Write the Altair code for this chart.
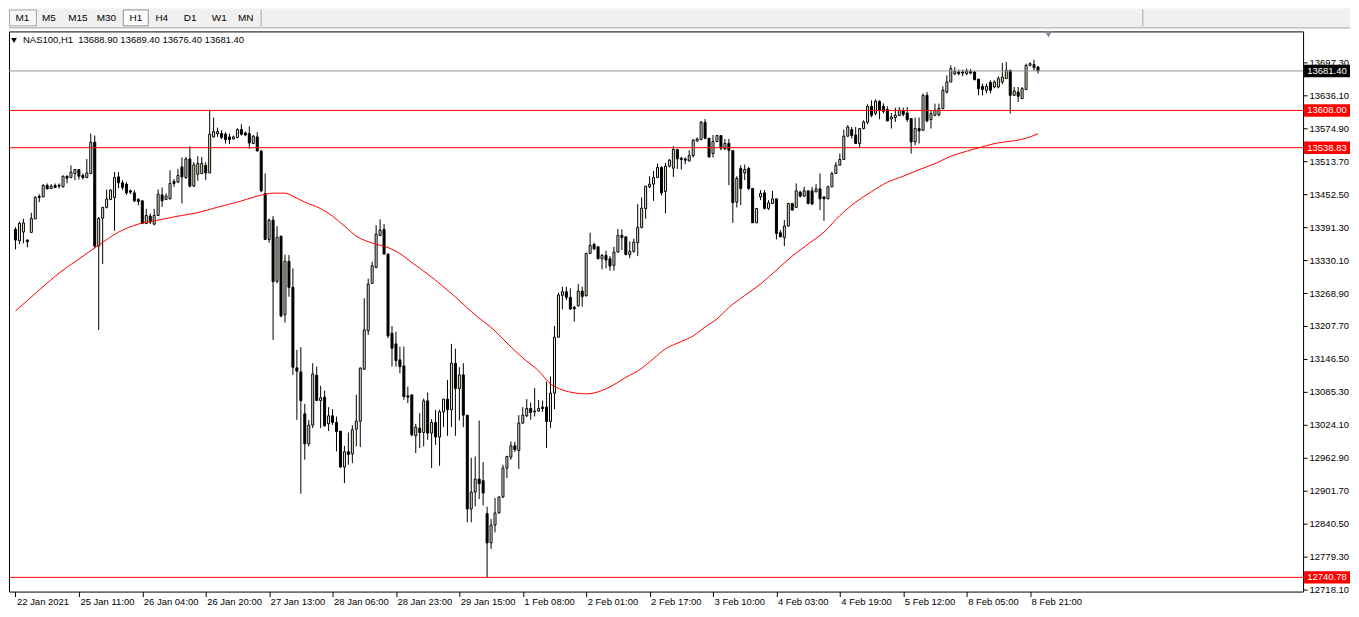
import altair as alt
import pandas as pd

# ---------------- data ----------------
symbol = "NAS100,H1"

opens = [
    13387.1, 13365.9, 13382.1, 13367.2, 13381.5, 13406.7, 13448.3, 13447.5, 13468.7, 13463.1,
    13468.7, 13469.2, 13466.1, 13485.9, 13483.5, 13490.9, 13498.3, 13487.2, 13483.5, 13490.9,
    13548.9, 13356.6, 13408.0, 13427.9, 13442.7, 13446.4, 13484.6, 13473.5, 13471.1, 13458.7,
    13454.9, 13442.7, 13440.1, 13398.2, 13411.7, 13396.9, 13413.0, 13451.2, 13442.7, 13443.8,
    13476.1, 13474.8, 13503.2, 13483.5, 13518.0, 13467.4, 13489.6, 13490.9, 13505.8, 13492.0,
    13558.8, 13565.1, 13565.1, 13563.8, 13558.8, 13555.1, 13557.7, 13572.5, 13566.2, 13565.1,
    13546.6, 13558.8, 13532.8, 13453.8, 13368.5, 13404.3, 13290.6, 13374.6, 13228.7, 13327.7,
    13279.5, 13129.9, 13122.4, 13044.5, 12988.9, 13023.6, 13116.3, 13069.2, 13075.5, 13026.0,
    13040.8, 13028.4, 13012.5, 12945.7, 12974.1, 12970.4, 13016.2, 13031.0, 13127.4, 13199.0,
    13286.9, 13316.6, 13375.9, 13387.1, 13341.3, 13194.2, 13174.4, 13144.7, 13133.5, 13077.9,
    13079.8, 13003.7, 13018.0, 13009.9, 13068.6, 13008.7, 13028.4, 13001.3, 13048.2, 13071.8,
    13052.0, 13138.5, 13091.5, 13116.9, 13042.1, 12867.8, 12899.3, 12923.4, 12920.3, 12859.1,
    12804.8, 12838.1, 12860.4, 12890.1, 12943.8, 12964.2, 12985.2, 12976.5, 13027.3, 13040.8,
    13054.4, 13049.6, 13049.6, 13057.0, 13057.0, 13030.3, 13082.9, 13186.8, 13264.7, 13271.3,
    13260.9, 13242.4, 13245.4, 13272.6, 13264.0, 13342.5, 13359.2, 13354.8, 13332.5, 13338.8,
    13332.5, 13320.3, 13345.0, 13375.9, 13373.3, 13340.0, 13346.3, 13362.2, 13390.8, 13426.0,
    13466.1, 13471.1, 13483.5, 13502.0, 13457.5, 13504.5, 13500.8, 13535.4, 13519.3, 13518.0,
    13514.3, 13524.3, 13551.4, 13554.0, 13586.0, 13556.4, 13528.0, 13550.3, 13561.4, 13536.9,
    13547.1, 13533.2, 13437.7, 13500.2, 13492.0, 13500.2, 13463.1, 13399.3, 13447.5, 13454.9,
    13426.0, 13435.3, 13443.8, 13380.8, 13372.2, 13393.2, 13435.3, 13427.9, 13456.2, 13448.8,
    13458.7, 13458.7, 13456.8, 13462.3, 13447.5, 13443.8, 13466.1, 13490.9, 13506.3, 13516.9,
    13560.1, 13572.5, 13562.5, 13546.6, 13574.4, 13586.0, 13615.7, 13602.7, 13625.0, 13615.7,
    13609.6, 13592.2, 13594.8, 13598.5, 13607.0, 13603.3, 13592.9, 13549.5, 13574.4, 13571.2,
    13636.1, 13591.1, 13599.0, 13599.6, 13611.5, 13642.2, 13660.8, 13676.4, 13679.3, 13679.3,
    13676.4, 13680.1, 13679.3, 13666.4, 13652.8, 13645.4, 13660.2, 13651.5, 13651.5, 13660.8,
    13667.1, 13682.5, 13636.1, 13642.2, 13630.0, 13646.7, 13691.8, 13693.1, 13688.9,
]
highs = [
    13391.3, 13401.2, 13406.7, 13368.5, 13417.9, 13448.8, 13452.5, 13471.1, 13472.4, 13471.1,
    13472.4, 13472.4, 13487.2, 13487.2, 13505.8, 13499.4, 13498.3, 13490.9, 13518.0, 13565.1,
    13561.4, 13409.9, 13429.0, 13461.2, 13461.2, 13493.9, 13493.9, 13478.5, 13474.8, 13461.2,
    13460.0, 13445.1, 13441.4, 13425.3, 13416.7, 13425.3, 13461.2, 13464.9, 13453.8, 13497.0,
    13480.9, 13499.4, 13520.6, 13521.7, 13541.5, 13511.9, 13523.0, 13521.7, 13511.9, 13609.6,
    13594.8, 13576.2, 13571.2, 13567.5, 13565.1, 13561.4, 13574.9, 13582.3, 13568.8, 13578.6,
    13562.5, 13567.5, 13534.1, 13490.9, 13407.5, 13411.7, 13393.2, 13374.6, 13340.0, 13339.4,
    13314.7, 13163.2, 13168.2, 13063.1, 13033.4, 13138.5, 13132.2, 13096.5, 13087.7, 13057.0,
    13053.2, 13039.5, 13012.5, 12985.2, 13009.9, 13023.6, 13079.8, 13131.1, 13259.1, 13295.5,
    13327.0, 13395.0, 13405.6, 13396.9, 13341.3, 13207.7, 13197.2, 13169.3, 13169.3, 13095.2,
    13079.8, 13026.0, 13045.8, 13072.9, 13084.0, 13034.7, 13052.0, 13052.0, 13071.8, 13107.6,
    13174.4, 13165.6, 13131.1, 13138.5, 13042.1, 12962.9, 12965.3, 13032.1, 12955.0, 12872.1,
    12849.3, 12888.2, 12891.2, 12950.0, 12966.6, 12993.2, 12992.6, 13042.1, 13057.0, 13071.8,
    13065.5, 13092.2, 13070.5, 13069.2, 13104.4, 13113.7, 13207.7, 13269.5, 13280.6, 13280.6,
    13277.6, 13244.8, 13285.6, 13280.6, 13343.7, 13380.8, 13362.2, 13354.8, 13341.3, 13347.4,
    13337.5, 13354.8, 13388.2, 13387.1, 13373.3, 13364.8, 13369.6, 13434.0, 13446.4, 13467.4,
    13485.9, 13495.7, 13509.5, 13504.5, 13510.6, 13518.0, 13541.5, 13535.4, 13521.7, 13520.6,
    13534.1, 13555.1, 13557.7, 13588.5, 13592.2, 13556.4, 13562.5, 13561.4, 13561.4, 13555.1,
    13555.1, 13533.2, 13485.9, 13506.3, 13507.6, 13503.2, 13463.1, 13426.0, 13460.0, 13460.0,
    13441.4, 13458.7, 13443.8, 13385.8, 13404.3, 13435.8, 13435.3, 13472.4, 13458.7, 13466.1,
    13458.7, 13466.1, 13471.1, 13490.9, 13447.5, 13468.7, 13493.9, 13512.4, 13528.0, 13572.5,
    13580.5, 13577.3, 13577.3, 13574.4, 13589.8, 13619.4, 13626.8, 13628.7, 13626.8, 13621.3,
    13615.7, 13603.3, 13613.3, 13614.4, 13613.3, 13614.4, 13592.9, 13594.8, 13594.8, 13639.3,
    13642.2, 13608.3, 13620.7, 13620.7, 13652.8, 13673.2, 13691.8, 13688.6, 13683.8, 13683.8,
    13685.6, 13684.9, 13681.2, 13666.4, 13657.8, 13657.8, 13664.0, 13664.0, 13671.4, 13696.0,
    13697.9, 13683.8, 13651.5, 13651.5, 13651.5, 13694.9, 13697.3, 13702.3, 13689.4,
]
lows = [
    13350.0, 13359.8, 13361.1, 13353.7, 13380.8, 13406.2, 13437.7, 13447.0, 13461.2, 13462.3,
    13463.7, 13463.1, 13465.0, 13472.4, 13482.2, 13478.5, 13479.8, 13479.8, 13482.2, 13489.6,
    13351.8, 13200.3, 13322.7, 13426.0, 13441.4, 13384.5, 13463.7, 13460.0, 13451.2, 13452.5,
    13437.7, 13431.6, 13396.9, 13396.9, 13396.9, 13394.5, 13411.7, 13429.0, 13441.4, 13442.7,
    13466.1, 13473.5, 13435.3, 13480.9, 13465.0, 13466.1, 13477.2, 13489.6, 13478.5, 13492.0,
    13557.7, 13558.8, 13555.1, 13546.6, 13545.3, 13554.0, 13556.4, 13561.4, 13560.1, 13536.5,
    13545.3, 13531.7, 13456.2, 13367.2, 13362.2, 13181.8, 13286.9, 13223.9, 13213.9, 13262.1,
    13116.9, 13033.4, 12896.2, 12959.4, 12983.9, 13018.0, 13069.2, 13018.0, 13021.0, 13012.5,
    13024.1, 12974.6, 12944.4, 12916.0, 12950.0, 12953.1, 12983.9, 12982.8, 13126.1, 13191.0,
    13286.9, 13314.7, 13374.6, 13341.3, 13184.9, 13132.2, 13132.2, 13120.0, 13070.5, 13064.4,
    13002.4, 12971.6, 12981.0, 12983.9, 12996.3, 12943.8, 12987.0, 12948.1, 13019.9, 13003.7,
    13019.9, 13003.7, 13032.1, 13019.9, 12843.0, 12843.0, 12872.6, 12886.3, 12874.5, 12740.8,
    12793.6, 12824.4, 12859.1, 12888.2, 12925.3, 12959.2, 12974.1, 12942.0, 13026.0, 13038.4,
    13033.4, 13039.5, 13048.2, 13048.2, 12981.0, 13018.6, 13053.2, 13186.8, 13238.7, 13256.0,
    13237.4, 13215.7, 13243.5, 13243.5, 13262.1, 13341.3, 13348.7, 13332.0, 13312.9, 13314.7,
    13310.3, 13310.3, 13343.7, 13348.7, 13338.8, 13333.8, 13343.7, 13337.5, 13388.9, 13406.7,
    13463.7, 13440.1, 13482.2, 13450.1, 13416.7, 13502.0, 13484.6, 13499.4, 13498.3, 13508.2,
    13513.2, 13520.6, 13550.3, 13552.7, 13554.5, 13520.6, 13520.6, 13549.0, 13534.1, 13534.1,
    13469.2, 13399.3, 13427.9, 13432.1, 13478.5, 13460.0, 13399.3, 13399.3, 13441.4, 13424.1,
    13422.9, 13434.0, 13368.5, 13372.8, 13356.1, 13393.2, 13422.9, 13427.9, 13446.4, 13447.5,
    13433.4, 13434.0, 13456.2, 13422.9, 13403.0, 13443.8, 13466.1, 13490.9, 13506.3, 13516.9,
    13560.1, 13555.8, 13546.6, 13537.8, 13573.1, 13582.3, 13595.3, 13599.0, 13591.6, 13602.7,
    13587.9, 13574.4, 13586.6, 13598.5, 13597.2, 13586.6, 13528.0, 13543.4, 13546.6, 13571.2,
    13586.0, 13574.4, 13597.2, 13597.2, 13610.2, 13639.3, 13660.8, 13673.2, 13673.2, 13671.4,
    13673.2, 13675.1, 13664.0, 13636.1, 13636.1, 13639.8, 13639.8, 13649.1, 13649.1, 13656.5,
    13667.1, 13602.2, 13635.2, 13623.7, 13630.0, 13646.7, 13689.9, 13682.5, 13676.4,
]
closes = [
    13367.2, 13398.2, 13399.3, 13364.1, 13407.5, 13446.4, 13446.4, 13468.7, 13462.3, 13467.4,
    13465.0, 13467.4, 13485.9, 13482.2, 13493.3, 13498.3, 13485.9, 13483.5, 13492.0, 13548.9,
    13356.1, 13407.5, 13427.9, 13443.3, 13460.0, 13483.5, 13473.5, 13465.0, 13454.9, 13456.2,
    13440.1, 13439.0, 13398.2, 13413.0, 13400.6, 13413.0, 13452.5, 13440.1, 13448.8, 13472.4,
    13472.4, 13487.2, 13484.6, 13518.0, 13467.4, 13506.9, 13509.5, 13509.5, 13492.0, 13563.8,
    13568.8, 13568.8, 13557.7, 13554.0, 13554.0, 13558.8, 13572.5, 13563.8, 13562.5, 13547.6,
    13560.1, 13532.8, 13458.7, 13368.5, 13404.3, 13289.9, 13372.2, 13226.3, 13327.7, 13279.5,
    13131.1, 13123.7, 13069.2, 12988.9, 13023.6, 13118.7, 13069.2, 13074.2, 13022.3, 13040.8,
    13028.4, 13011.7, 12945.7, 12974.1, 12969.1, 13014.9, 13031.0, 13129.3, 13200.3, 13285.6,
    13319.6, 13378.3, 13385.8, 13341.3, 13189.2, 13166.4, 13143.4, 13132.2, 13076.6, 13075.5,
    13005.6, 13019.9, 13009.9, 13068.6, 13008.7, 13028.4, 13001.3, 13048.2, 13071.8, 13052.0,
    13138.5, 13091.5, 13116.9, 13042.1, 12867.8, 12899.3, 12923.4, 12914.7, 12897.5, 12804.8,
    12838.1, 12860.4, 12890.1, 12943.8, 12965.3, 12985.2, 12977.8, 13027.3, 13042.1, 13054.4,
    13047.0, 13048.2, 13054.4, 13054.4, 13030.3, 13082.9, 13186.8, 13265.2, 13271.3, 13260.9,
    13239.3, 13239.8, 13272.6, 13262.1, 13342.5, 13357.4, 13351.1, 13332.5, 13338.8, 13330.1,
    13319.0, 13345.0, 13375.9, 13372.2, 13340.7, 13346.3, 13363.5, 13390.8, 13426.6, 13467.4,
    13471.1, 13483.5, 13502.0, 13454.9, 13504.5, 13515.6, 13535.4, 13518.0, 13516.9, 13515.6,
    13524.3, 13552.7, 13555.1, 13586.0, 13556.4, 13521.7, 13550.3, 13561.4, 13537.8, 13546.6,
    13534.1, 13436.8, 13481.6, 13463.1, 13498.3, 13463.1, 13399.3, 13426.0, 13453.8, 13426.0,
    13436.4, 13443.8, 13379.6, 13373.3, 13393.2, 13435.3, 13422.9, 13458.7, 13448.8, 13458.7,
    13435.3, 13434.0, 13462.3, 13443.8, 13443.8, 13466.1, 13490.9, 13506.3, 13516.9, 13560.1,
    13577.3, 13561.4, 13546.6, 13574.4, 13586.6, 13615.7, 13599.0, 13625.0, 13608.3, 13606.4,
    13588.5, 13595.9, 13599.0, 13608.3, 13600.9, 13591.1, 13549.5, 13574.4, 13569.9, 13636.1,
    13588.5, 13602.2, 13608.3, 13611.5, 13645.4, 13660.8, 13685.6, 13680.6, 13676.4, 13677.5,
    13681.2, 13677.5, 13665.2, 13648.5, 13646.7, 13652.8, 13645.4, 13660.8, 13667.1, 13670.1,
    13682.5, 13636.1, 13644.1, 13634.3, 13648.5, 13691.8, 13694.9, 13687.5, 13681.4,
]

# moving average (red line), read at selected bars
ma_index = [0, 6, 11, 16, 21, 26, 31, 36, 41, 46,
            51, 56, 61, 65, 68, 70, 73, 77, 80, 83,
            86, 90, 94, 97, 100, 104, 111, 116, 121, 124,
            128, 132, 135, 138, 141, 144, 147, 150, 154, 158,
            161, 164, 168, 171, 174, 177, 180, 184, 188, 192,
            196, 200, 204, 208, 212, 216, 220, 224, 228, 232,
            236, 240, 244, 248, 252, 255, 258]
ma_values = [13235.6, 13274.5, 13306.0, 13332.0, 13357.9, 13382.0, 13396.9, 13404.3, 13411.7, 13418.2,
             13428.4, 13437.7, 13448.8, 13454.4, 13454.4, 13448.8, 13437.7, 13425.6, 13411.7, 13393.2,
             13374.6, 13361.7, 13353.3, 13342.2, 13325.5, 13304.2, 13261.5, 13228.1, 13198.5, 13176.2,
             13148.4, 13124.3, 13100.2, 13089.0, 13083.5, 13081.6, 13085.3, 13094.6, 13112.2, 13128.9,
             13147.4, 13165.1, 13178.9, 13189.2, 13205.9, 13220.7, 13242.0, 13264.3, 13285.6, 13311.6,
             13337.5, 13359.8, 13382.1, 13412.7, 13437.7, 13457.2, 13474.7, 13485.9, 13498.0, 13509.1,
             13523.0, 13532.3, 13540.6, 13548.0, 13551.7, 13556.4, 13564.7]

red_levels = [13608.00, 13538.83, 12740.78]

price_ticks = [12718.10, 12779.30, 12840.50, 12901.70, 12962.90, 13024.10, 13085.30, 13146.50,
               13207.70, 13268.90, 13330.10, 13391.30, 13452.50, 13513.70, 13574.90, 13636.10,
               13697.30]

time_labels = ["22 Jan 2021", "25 Jan 11:00", "26 Jan 04:00", "26 Jan 20:00", "27 Jan 13:00",
               "28 Jan 06:00", "28 Jan 23:00", "29 Jan 15:00", "1 Feb 08:00", "2 Feb 01:00",
               "2 Feb 17:00", "3 Feb 10:00", "4 Feb 03:00", "4 Feb 19:00", "5 Feb 12:00",
               "8 Feb 05:00", "8 Feb 21:00"]
bars_per_label = 16

periods = ["M1", "M5", "M15", "M30", "H1", "H4", "D1", "W1", "MN"]

# ---------------- tables ----------------
candles = pd.DataFrame({
    "i": list(range(len(opens))),
    "open": opens, "high": highs, "low": lows, "close": closes,
})
ma_df = pd.DataFrame({"i": ma_index, "ma": ma_values})
red_df = pd.DataFrame({"level": red_levels})
bid_df = pd.DataFrame({"level": [closes[-1]]})
one = pd.DataFrame({"k": [0]})

# ---------------- styling ----------------
FONT = "Liberation Sans"
FS = 9.5
W, H = 1296, 561
TOTAL_W = 1343
BULL = "#F3F1CF"
RED = "#FF0000"

# 4 px per bar, bars centred on half pixels so the 1px outlines stay crisp
xs = alt.Scale(domain=[-0.375, W / 4 - 0.375], nice=False, zero=False)
ys = alt.Scale(domain=[12714.4, 13754.8], nice=False, zero=False)

label_expr = ("[" + ",".join("'" + t + "'" for t in time_labels) + "]"
              + "[round(datum.value / " + str(bars_per_label) + ")]")

x_axis = alt.Axis(values=[bars_per_label * k for k in range(len(time_labels))],
                  labelExpr=label_expr, title=None, grid=False, domain=False,
                  ticks=True, tickSize=5, tickColor="black", tickWidth=1,
                  labelAlign="left", labelBaseline="top", labelOffset=1, labelPadding=0,
                  labelFont=FONT, labelFontSize=FS, labelColor="black",
                  labelOverlap=False, labelFlush=False)
y_axis = alt.Axis(orient="right", values=price_ticks, format=".2f", title=None,
                  grid=False, domain=False, tickSize=4, tickColor="black", tickWidth=1,
                  labelPadding=2, labelFont=FONT, labelFontSize=FS, labelColor="black",
                  labelOverlap=False, labelFlush=False, labelBaseline="middle")


def X(field):
    return alt.X(field, scale=xs, axis=x_axis)


def Y(field):
    return alt.Y(field, scale=ys, axis=y_axis)


base = alt.Chart(candles)

wicks = base.mark_rule(color="black", strokeWidth=1).encode(
    x=X("i:Q"), y=Y("low:Q"), y2="high:Q")
bodies = base.mark_bar(width=2, stroke="black", strokeWidth=1).encode(
    x=X("i:Q"), y=Y("open:Q"), y2="close:Q",
    fill=alt.condition("datum.close >= datum.open", alt.value(BULL), alt.value("black")),
)
ma_line = alt.Chart(ma_df).mark_line(color=RED, strokeWidth=1, interpolate="monotone").encode(
    x=X("i:Q"), y=Y("ma:Q"))
red_rules = alt.Chart(red_df).mark_rule(color=RED, strokeWidth=1).encode(y=Y("level:Q"))
bid_rule = alt.Chart(bid_df).mark_rule(color="#8E939A", strokeWidth=1).encode(y=Y("level:Q"))

BOX = "M-1,-0.27H1V0.27H-1Z"
LX = W + 24
red_boxes = alt.Chart(red_df).mark_point(shape=BOX, size=2116, filled=True, color=RED,
                                         opacity=1, strokeWidth=0).encode(
    x=alt.value(LX), y=Y("level:Q"))
bid_box = alt.Chart(bid_df).mark_point(shape=BOX, size=2116, filled=True, color="black",
                                       opacity=1, strokeWidth=0).encode(
    x=alt.value(LX), y=Y("level:Q"))
red_txt = alt.Chart(red_df).mark_text(color="white", font=FONT, fontSize=FS,
                                      align="center", baseline="middle").encode(
    x=alt.value(LX), y=Y("level:Q"), text=alt.Text("level:Q", format=".2f"))
bid_txt = alt.Chart(bid_df).mark_text(color="white", font=FONT, fontSize=FS,
                                      align="center", baseline="middle").encode(
    x=alt.value(LX), y=Y("level:Q"), text=alt.Text("level:Q", format=".2f"))

header_text = (symbol + "\u00a0\u00a0" + f"{opens[-1]:.2f} {highs[-1]:.2f} "
               f"{lows[-1]:.2f} {closes[-1]:.2f}")
header = alt.Chart(one).mark_text(align="left", baseline="middle", font=FONT, fontSize=FS,
                                  color="black").encode(
    x=alt.value(14), y=alt.value(9), text=alt.value(header_text))
header_tri = alt.Chart(one).mark_point(shape="triangle-down", filled=True, size=34,
                                       color="black", opacity=1).encode(
    x=alt.value(5), y=alt.value(9))
shift_mark = alt.Chart(one).mark_point(shape="triangle-down", filled=True, size=50,
                                       color="#7D8A99", opacity=1).encode(
    x=alt.value(1041), y=alt.value(3))

# ---------------- toolbar (window chrome) ----------------
ui = []
ui.append(alt.Chart(one).mark_rect(color="#F0F0F0").encode(
    x=alt.value(0), x2=alt.value(TOTAL_W), y=alt.value(-23), y2=alt.value(-4)))
ui.append(alt.Chart(one).mark_rule(color="#A0A0A0", strokeWidth=1).encode(
    x=alt.value(0), x2=alt.value(TOTAL_W), y=alt.value(-3.5)))
ui.append(alt.Chart(one).mark_rect(fill="#F7F7F7", stroke="#A5A5A5", strokeWidth=1).encode(
    x=alt.value(0.5), x2=alt.value(27.5), y=alt.value(-21.5), y2=alt.value(-5.5)))
ui.append(alt.Chart(one).mark_rect(fill="#FBFBFB", stroke="#8F8F8F", strokeWidth=1).encode(
    x=alt.value(114.5), x2=alt.value(139.5), y=alt.value(-21.5), y2=alt.value(-5.5)))
for sx in (252.5, 1135.5):
    ui.append(alt.Chart(one).mark_rule(color="#A8A8A8", strokeWidth=1).encode(
        x=alt.value(sx), y=alt.value(-22), y2=alt.value(-5)))
toolbar_x = [13.5, 40, 69, 97.5, 127, 153, 181.5, 210.5, 237]
for lab, tx in zip(periods, toolbar_x):
    ui.append(alt.Chart(one).mark_text(font=FONT, fontSize=10, color="black",
                                       align="center", baseline="middle").encode(
        x=alt.value(tx), y=alt.value(-13), text=alt.value(lab)))

chart = alt.layer(
    wicks, bodies, ma_line, bid_rule, red_rules,
    bid_box, red_boxes, bid_txt, red_txt,
    header_tri, header, shift_mark, *ui,
).properties(width=W, height=H).configure(padding=0, background="white").configure_view(
    stroke="black", strokeWidth=1, fill="white")

chart.save("out.html", embed_options={"renderer": "svg", "actions": False})
